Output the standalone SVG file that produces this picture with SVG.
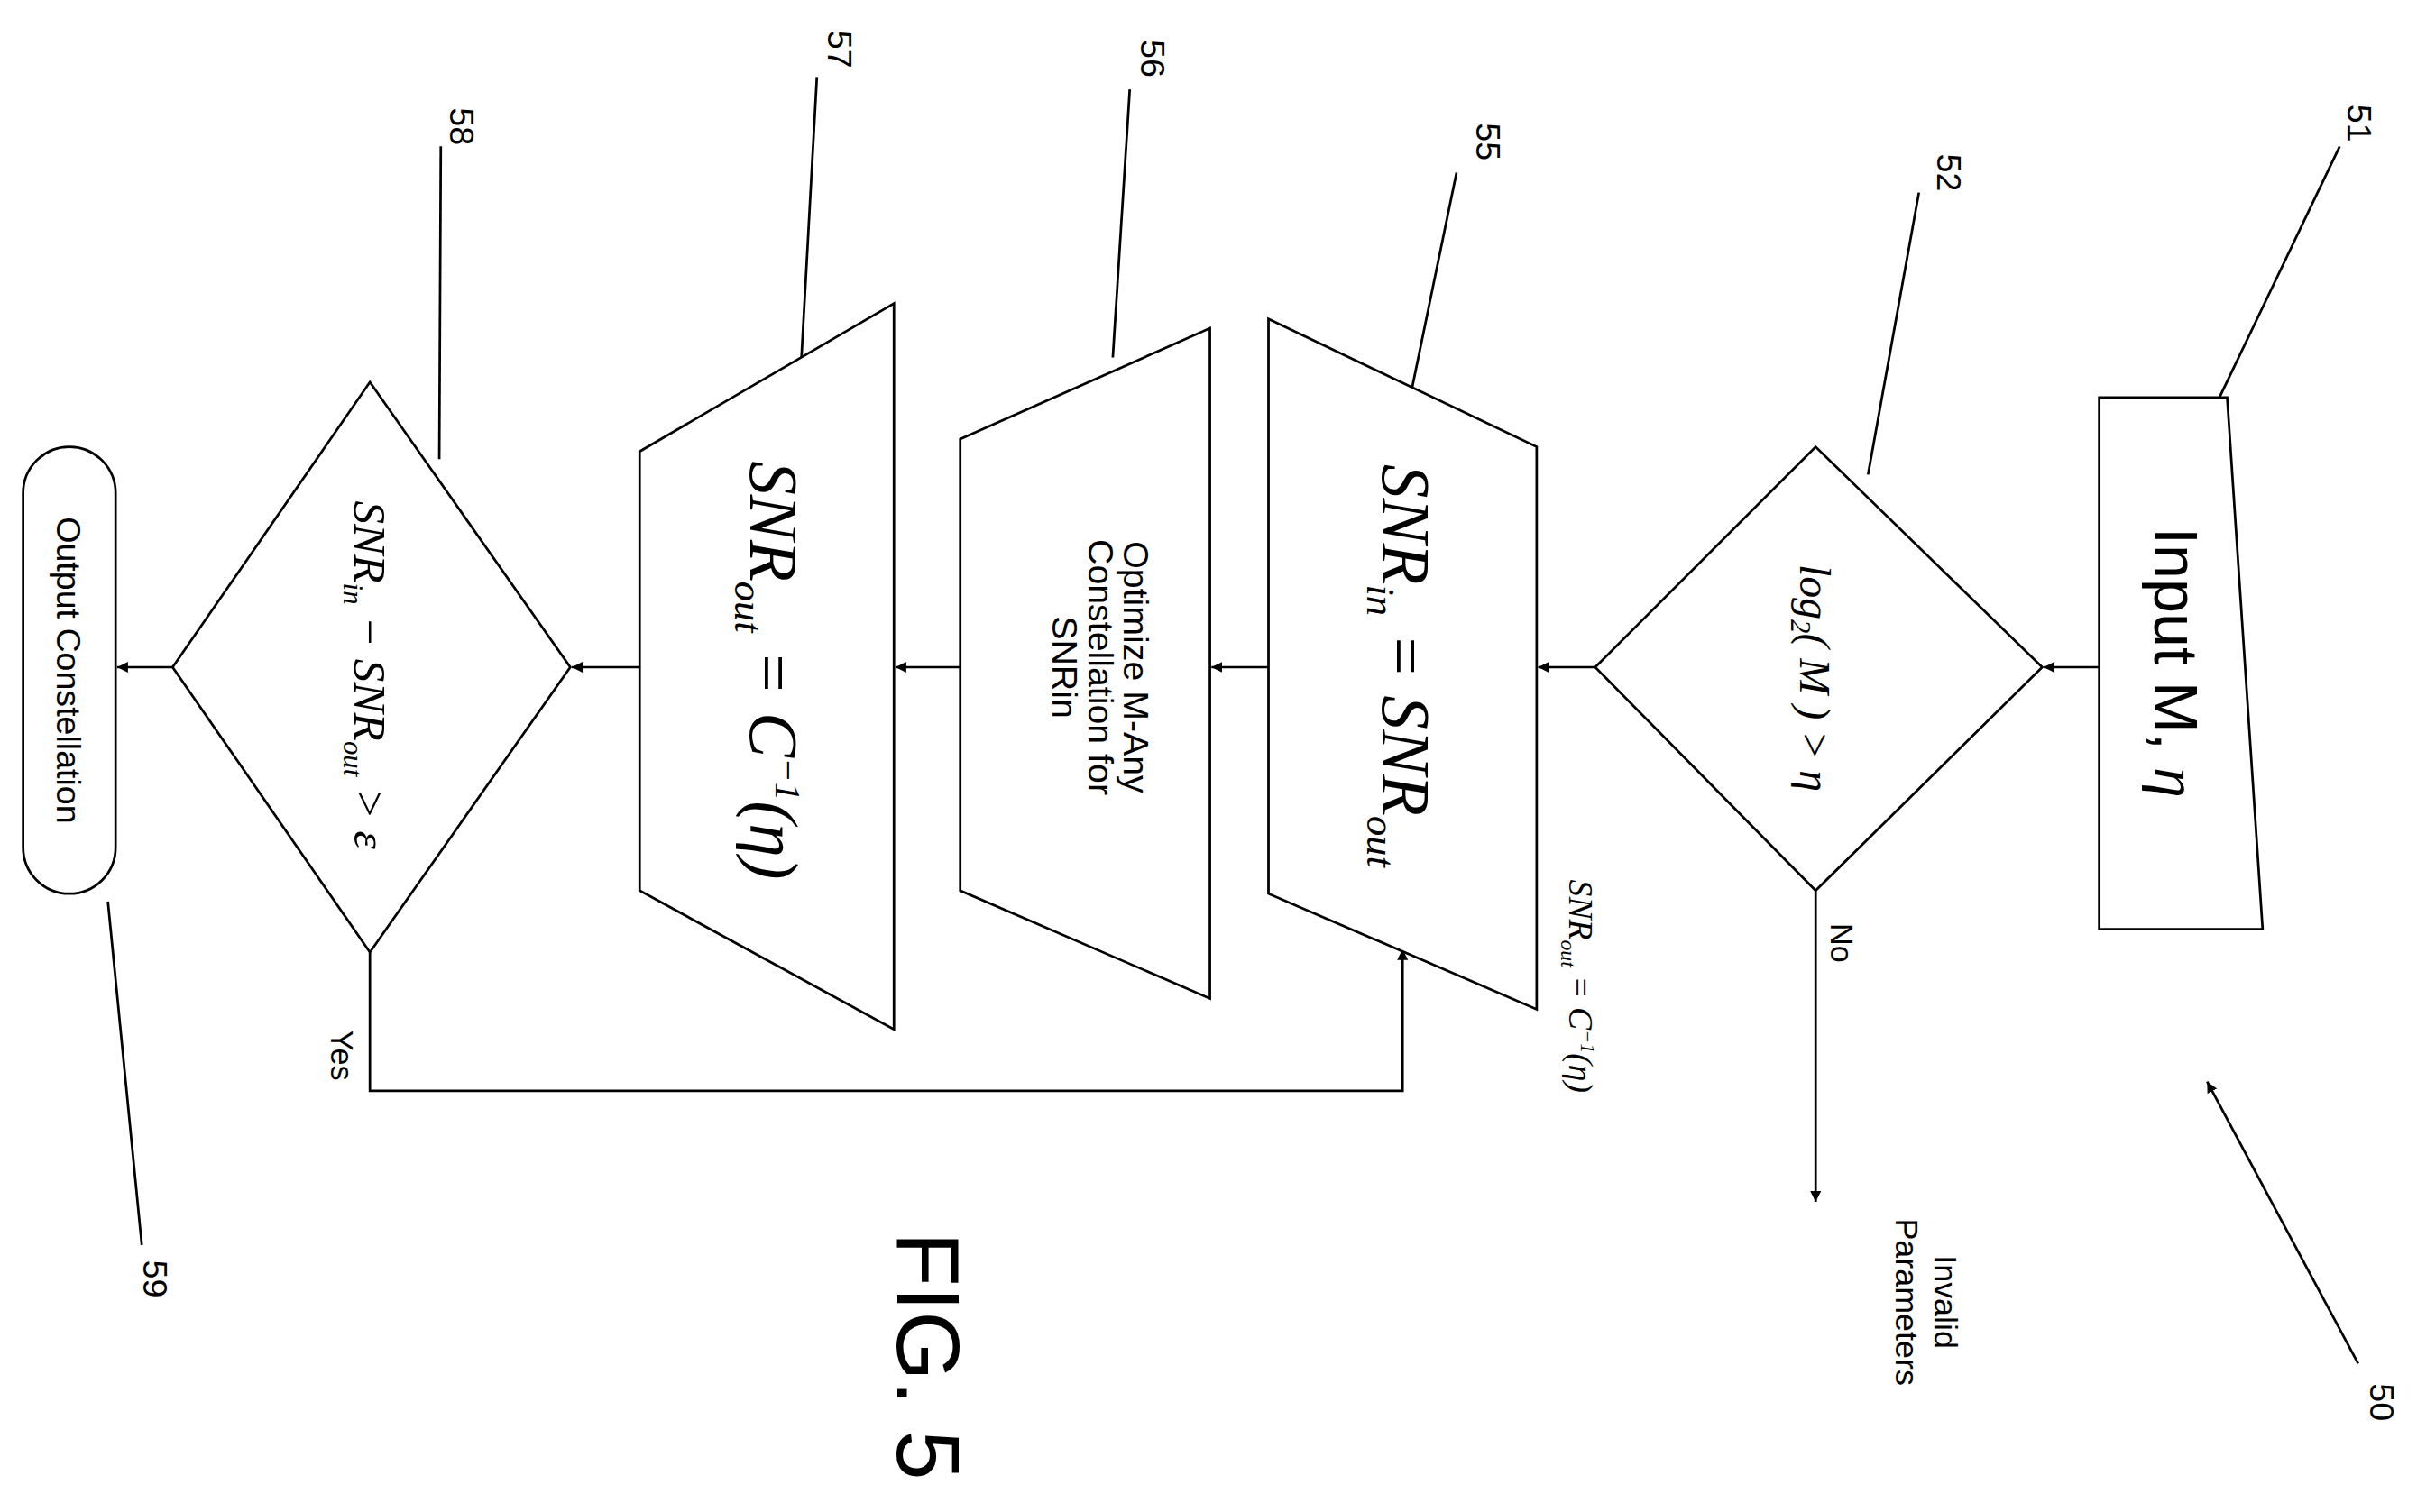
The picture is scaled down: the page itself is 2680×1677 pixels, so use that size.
<svg xmlns="http://www.w3.org/2000/svg" width="2680" height="1677" viewBox="0 0 2680 1677">
<style>
.s{fill:none;stroke:#000;stroke-width:1.6}
.f{fill:#fff;stroke:#000;stroke-width:1.6}
.t{font-family:"Liberation Sans",Arial,sans-serif;fill:#000;text-anchor:middle}
.m{font-family:"Liberation Serif","Times New Roman",serif;font-style:italic;fill:#000;text-anchor:middle}
</style>
<defs><marker id="a" viewBox="0 0 10 10" refX="10" refY="5" markerWidth="7" markerHeight="7" orient="auto" markerUnits="userSpaceOnUse"><path d="M0,0 L10,5 L0,10 z" fill="#000"/></marker></defs>
<rect width="2680" height="1677" fill="#fff"/>
<g transform="scale(1.709)">
<g id="connectors" class="s">
<line x1="1362" y1="433" x2="1326" y2="433" marker-end="url(#a)" class="s"/>
<line x1="1035" y1="433" x2="998" y2="433" marker-end="url(#a)" class="s"/>
<line x1="823" y1="433" x2="786" y2="433" marker-end="url(#a)" class="s"/>
<line x1="623" y1="433" x2="581" y2="433" marker-end="url(#a)" class="s"/>
<line x1="415" y1="433" x2="371" y2="433" marker-end="url(#a)" class="s"/>
<line x1="112" y1="433" x2="76" y2="433" marker-end="url(#a)" class="s"/>
<line x1="1178" y1="578" x2="1178" y2="780" marker-end="url(#a)" class="s"/>
<polyline points="240,618 240,708 910,708 910,616" marker-end="url(#a)" class="s"/>
<line x1="1530" y1="885" x2="1432" y2="702" marker-end="url(#a)" class="s"/>
<line x1="1518" y1="95" x2="1440" y2="258"/>
<line x1="1245" y1="125" x2="1212" y2="308"/>
<line x1="945" y1="112" x2="912" y2="272"/>
<line x1="733" y1="58" x2="722" y2="232"/>
<line x1="530" y1="50" x2="520" y2="232"/>
<line x1="286" y1="95" x2="285" y2="298"/>
<line x1="92" y1="808" x2="70" y2="585"/>
</g>
<g id="n51"><polygon class="f" points="1362,258 1445,258 1468,603 1362,603"/>
<text class="t" font-size="40" transform="translate(1398,430) rotate(90)">Input M, <tspan font-family="Liberation Serif" font-style="italic">η</tspan></text></g>
<g id="n52"><polygon class="f" points="1035,433 1178,290 1325,433 1178,578"/>
<text class="m" font-size="28" transform="translate(1168,440) rotate(90)">log<tspan font-size="18" dy="6">2</tspan><tspan dy="-6">(</tspan> M ) &gt; η</text></g>
<g id="n55"><polygon class="f" points="823,207 997,290 997,655 823,580"/>
<text class="m" font-size="44" transform="translate(897,432) rotate(90)">SNR<tspan font-size="26" dy="10">in</tspan><tspan dy="-10"> = SNR</tspan><tspan font-size="26" dy="10">out</tspan></text></g>
<g id="n56"><polygon class="f" points="623,285 785,213 785,648 623,578"/>
<text class="t" font-size="23" transform="translate(729,433) rotate(90)">Optimize M-Any</text>
<text class="t" font-size="23" transform="translate(706,433) rotate(90)">Constellation for</text>
<text class="t" font-size="23" transform="translate(683,433) rotate(90)">SNRin</text></g>
<g id="n57"><polygon class="f" points="415,293 580,197 580,668 415,578"/>
<text class="m" font-size="44" transform="translate(487,435) rotate(90)">SNR<tspan font-size="26" dy="10">out</tspan><tspan dy="-10"> = C</tspan><tspan font-size="24" dy="-16">−1</tspan><tspan dy="16">(η)</tspan></text></g>
<g id="n58"><polygon class="f" points="112,433 240,248 370,433 240,618"/>
<text class="m" font-size="30" transform="translate(230,438) rotate(90)">SNR<tspan font-size="18" dy="7">in</tspan><tspan dy="-7"> − SNR</tspan><tspan font-size="18" dy="7">out</tspan><tspan dy="-7"> &gt; ε</tspan></text></g>
<g id="n59"><rect class="f" x="15" y="290" width="60" height="290" rx="30" ry="30"/>
<text class="t" font-size="22" transform="translate(37,435) rotate(90)">Output Constellation</text></g>
<g id="labels">
<text class="t" font-size="20" transform="translate(1188,612) rotate(90)">No</text>
<text class="t" font-size="20" transform="translate(215,685) rotate(90)">Yes</text>
<text class="t" font-size="21" transform="translate(1255,845) rotate(90)">Invalid</text>
<text class="t" font-size="21" transform="translate(1230,845) rotate(90)">Parameters</text>
<text class="m" font-size="22" transform="translate(1018,640) rotate(90)">SNR<tspan font-size="14" dy="5">out</tspan><tspan dy="-5"> = C</tspan><tspan font-size="13" dy="-8">−1</tspan><tspan dy="8">(η)</tspan></text>
<text class="t" font-size="22" transform="translate(1523,80) rotate(90)">51</text>
<text class="t" font-size="22" transform="translate(1257,112) rotate(90)">52</text>
<text class="t" font-size="22" transform="translate(958,92) rotate(90)">55</text>
<text class="t" font-size="22" transform="translate(740,38) rotate(90)">56</text>
<text class="t" font-size="22" transform="translate(537,32) rotate(90)">57</text>
<text class="t" font-size="22" transform="translate(292,82) rotate(90)">58</text>
<text class="t" font-size="22" transform="translate(93,830) rotate(90)">59</text>
<text class="t" font-size="22" transform="translate(1538,910) rotate(90)">50</text>
<text class="t" font-size="58" transform="translate(582,880) rotate(90)">FIG. 5</text>
</g>
</g>
</svg>
